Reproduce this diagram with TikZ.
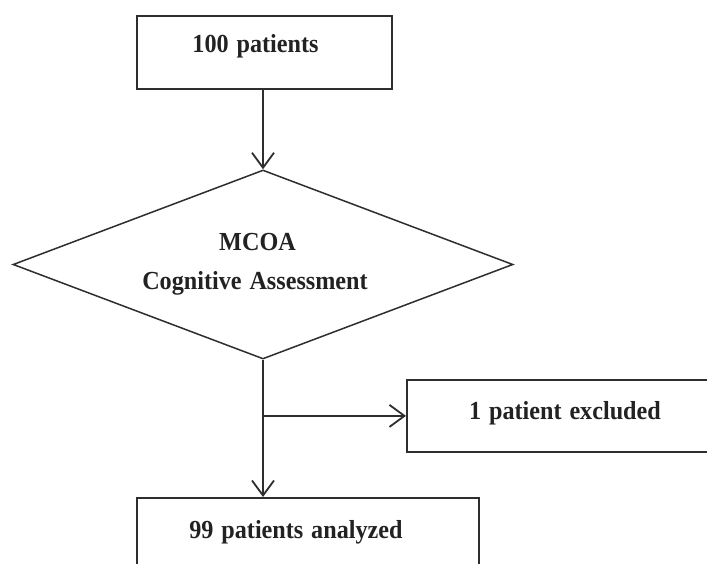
\documentclass[tikz,border=0pt]{standalone}
\usepackage{fontspec}
\setmainfont{Liberation Serif}[FakeStretch=0.93, WordSpace=1.3]
\usetikzlibrary{arrows.meta,shapes.geometric}
\definecolor{linec}{HTML}{2E2E2E}
\definecolor{txtc}{HTML}{222222}
\begin{document}
\begin{tikzpicture}[x=1pt,y=-1pt,
  box/.style={draw=linec, line width=1.8pt, rectangle, inner sep=0pt, anchor=north west},
  lbl/.style={font=\fontsize{26}{30}\selectfont\bfseries, text=txtc, anchor=base, inner sep=0pt},
  arr/.style={draw=linec, line width=1.8pt, -{Straight Barb[length=15pt,width=22pt,line width=1.8pt]}}]
\useasboundingbox (0,0) rectangle (707,563);
\clip (0,0) rectangle (707,563);
\fill[white] (0,0) rectangle (707,563);
\node[box, minimum width=255pt, minimum height=73pt] (top) at (136,15) {};
\node[diamond, draw=linec, line width=1.5pt, minimum width=500pt, minimum height=189pt, inner sep=0pt] (dia) at (263,264.5) {};
\node[box, minimum width=330pt, minimum height=72pt] (excl) at (406,379) {};
\node[box, minimum width=342pt, minimum height=100pt] (bot) at (136,497) {};
\node[lbl] (t1) at (255.5,52) {100 patients};
\node[lbl] (t2) at (257.5,250) {MCOA};
\node[lbl] (t3) at (255,289) {Cognitive Assessment};
\node[lbl] (t4) at (565,419) {1 patient excluded};
\node[lbl] (t5) at (296,538) {99 patients analyzed};
\draw[arr] (top.south -| dia.north) -- (dia.north);
\draw[arr] (dia.south) -- (dia.south |- bot.north);
\coordinate (br) at (dia.south |- excl.west);
\draw[arr] (br) -- (excl.west);
\end{tikzpicture}
\end{document}
